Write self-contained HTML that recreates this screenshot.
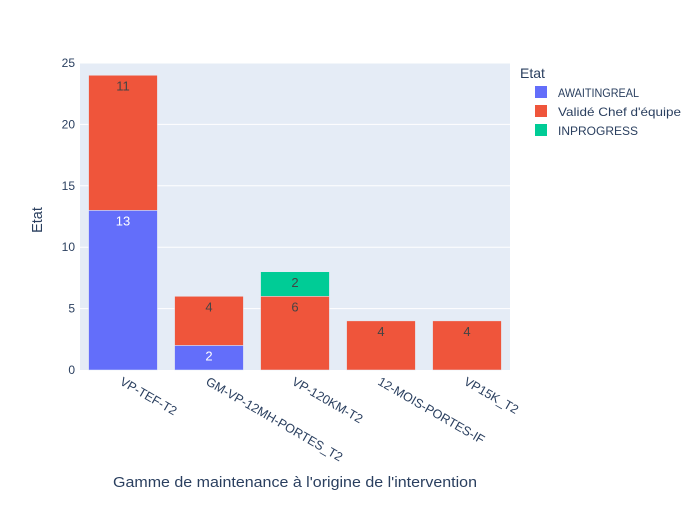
<!DOCTYPE html>
<html><head><meta charset="utf-8"><style>
body{margin:0;background:#fff;font-family:"Liberation Sans",Arial,sans-serif}
svg text{font-family:"Liberation Sans",Arial,sans-serif}
</style></head><body>
<svg id="chart" width="700" height="500">
<rect x="80" y="63" width="430" height="307" fill="#e5ecf6"/>
<g id="grid"></g><g id="bars"></g><g id="xt"></g><g id="yt"></g>
<text x="113" y="487" textLength="364" lengthAdjust="spacingAndGlyphs" font-size="14.5" fill="#2a3f5f">Gamme de maintenance à l'origine de l'intervention</text>
<text transform="translate(42,220) rotate(-90)" text-anchor="middle" font-size="14.5" fill="#2a3f5f">Etat</text>
<g id="legend"><text x="520" y="78" font-size="14" fill="#2a3f5f">Etat</text></g>
</svg>
<script>
const categories=["VP-TEF-T2","GM-VP-12MH-PORTES_T2","VP-120KM-T2","12-MOIS-PORTES-IF","VP15K_T2"];
const seriesNames=["AWAITINGREAL","Validé Chef d'équipe","INPROGRESS"];
const awaiting=[13,2,0,0,0];
const valide=[11,4,6,4,4];
const inprogress=[0,0,2,0,0];
const yTicks=[0,5,10,15,20,25];
const series=[awaiting,valide,inprogress];
const colors=["#636efa","#ef553b","#00cc96"];
const textColors=["#fff","#444","#444"];
const legendLens=[81,123,80];
const NS="http://www.w3.org/2000/svg";
const x0=80,x1=510,yb=370,yt=63,ymax=25;
const band=(x1-x0)/categories.length;
function xc(i){return x0+band*(i+0.5);}
function y(v){return yb-(v/ymax)*(yb-yt);}
function mk(tag,attrs,parent,txt){const e=document.createElementNS(NS,tag);for(const k in attrs)e.setAttribute(k,attrs[k]);if(txt!==undefined)e.textContent=txt;document.getElementById(parent).appendChild(e);return e;}
yTicks.forEach(t=>{
  if(t>0){const l=mk('line',{x1:x0,x2:x1,y1:y(t),y2:y(t),stroke:'#fff','stroke-width':1},'grid');
  
  }
  const tx=mk('text',{x:75,y:y(t)+4,'text-anchor':'end','font-size':12,fill:'#2a3f5f'},'yt',t);
  
  
});
const bw=band*0.8;
categories.forEach((c,i)=>{
  let base=0;
  series.forEach((s,k)=>{
    const v=s[i]; if(!v)return;
    const top=base+v;
    const r=mk('rect',{x:xc(i)-bw/2,y:y(top),width:bw,height:y(base)-y(top),fill:colors[k],stroke:'#e5ecf6','stroke-width':0.5},'bars');
    
    
    const t=mk('text',{x:xc(i),y:y(top)+15,'text-anchor':'middle','font-size':13,fill:textColors[k]},'bars',v);
    
    
    base=top;
  });
  const lab=mk('text',{transform:'translate('+(xc(i)-4)+',384) rotate(30)','font-size':12.5,fill:'#2a3f5f'},'xt',c);
  
  
});
seriesNames.forEach((n,k)=>{
  const yy=93+k*19;
  const r=mk('rect',{x:535,y:yy-7,width:12,height:12,fill:colors[k]},'legend');
  
  
  const t=mk('text',{x:558,y:yy+4,'font-size':12,fill:'#2a3f5f',textLength:legendLens[k],lengthAdjust:'spacingAndGlyphs'},'legend',n);
  
  
});
</script>
</body></html>
